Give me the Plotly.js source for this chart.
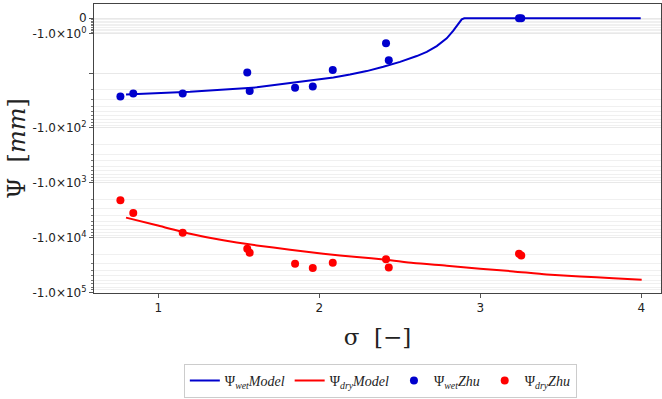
<!DOCTYPE html>
<html>
<head>
<meta charset="utf-8">
<script src="https://cdn.plot.ly/plotly-3.0.1.min.js"></script>
<style>html,body{margin:0;padding:0;background:#fff;}#chart{width:662px;height:399px;}</style>
</head>
<body>
<div id="chart"></div>
<script>
// ---- data ----
const sigmaZhu = [0.765, 0.845, 1.152, 1.553, 1.568, 1.850, 1.960, 2.084, 2.415, 2.432, 3.241, 3.255];
const psiWetZhu = [-26.6, -23.5, -23.5, -9.6, -21.3, -18.5, -17.5, -8.3, -1.76, -4.7, 0, 0];
const psiDryZhu = [-2090, -3560, -8120, -15900, -18800, -29900, -36000, -28700, -24900, -34900, -19600, -21100];

const sigmaWetModel = [0.800, 1.198, 1.612, 1.881, 1.984, 2.088, 2.191, 2.295, 2.398, 2.502, 2.606, 2.668, 2.730, 2.792, 2.833, 2.864, 2.885, 2.901, 3.997];
const psiWetModel = [-24.5, -22.0, -18.2, -14.6, -13.4, -12.0, -10.6, -8.9, -6.9, -5.2, -3.7, -2.9, -2.07, -1.32, -0.81, -0.33, -0.07, 0, 0];

const sigmaDryModel = [0.800, 0.991, 1.198, 1.404, 1.612, 1.819, 2.025, 2.233, 2.415, 2.585, 2.792, 2.999, 3.206, 3.413, 3.620, 3.827, 4.003];
const psiDryModel = [-4320, -5970, -8470, -11220, -13860, -16600, -19630, -22650, -25290, -29150, -32500, -36900, -41300, -46900, -51000, -54800, -58600];

const xTicks = [1, 2, 3, 4];
const yMajor = [0, -1, -10, -100, -1000, -10000, -100000];
const yMajorText = ['0', '-1.0×10<sup>0</sup>', '', '-1.0×10<sup>2</sup>', '-1.0×10<sup>3</sup>', '-1.0×10<sup>4</sup>', '-1.0×10<sup>5</sup>'];

// ---- symmetric-log style transform of the y axis ----
function T(y) {
  const a = Math.abs(y);
  let t;
  if (a <= 1) t = a * 0.28;
  else if (a <= 10) t = 0.28 + 0.72 * Math.log10(a);
  else t = Math.log10(a);
  return y < 0 ? -t : t;
}

const yMinorVals = [];
for (let k = 1; k <= 9; k++) yMinorVals.push(T(-k / 10));
for (let d = 1; d <= 4; d++) for (let k = 2; k <= 9; k++) yMinorVals.push(T(-k * Math.pow(10, d)));

const blue = 'rgb(0,0,205)';
const red = 'rgb(255,0,0)';
const lf = {family: 'Liberation Serif, DejaVu Serif, serif', size: 14, color: '#222'};

const traces = [
  {x: sigmaWetModel, y: psiWetModel.map(T), mode: 'lines', line: {color: blue, width: 2},
   name: 'Ψ<sub><i>wet</i></sub><i>Model</i>'},
  {x: sigmaDryModel, y: psiDryModel.map(T), mode: 'lines', line: {color: red, width: 2, shape: 'spline', smoothing: 0.6},
   name: 'Ψ<sub><i>dry</i></sub><i>Model</i>'},
  {x: sigmaZhu, y: psiWetZhu.map(T), mode: 'markers', marker: {color: blue, size: 8},
   name: 'Ψ<sub><i>wet</i></sub><i>Zhu</i>'},
  {x: sigmaZhu, y: psiDryZhu.map(T), mode: 'markers', marker: {color: red, size: 8},
   name: 'Ψ<sub><i>dry</i></sub><i>Zhu</i>'}
];

const layout = {
  width: 662, height: 399,
  margin: {l: 94, r: 1, t: 4, b: 106},
  paper_bgcolor: '#fff', plot_bgcolor: '#fff',
  showlegend: true,
  legend: {orientation: 'h', x: 0.505, xanchor: 'center', y: -0.245, yanchor: 'top',
           bordercolor: '#cccccc', borderwidth: 1, font: lf, itemwidth: 30, tracegroupgap: 0},
  xaxis: {
    range: [0.601, 4.123], tickmode: 'array', tickvals: xTicks, ticktext: xTicks.map(String),
    ticks: 'outside', ticklen: 4, tickcolor: '#555', showgrid: false, zeroline: false,
    showline: true, linecolor: '#444', linewidth: 1, mirror: true,
    tickfont: {family: 'DejaVu Sans, sans-serif', size: 12, color: '#222'},
    title: {text: 'σ  [−]', font: {family: 'DejaVu Serif, serif', size: 23, color: '#222'}, standoff: 14}
  },
  yaxis: {
    range: [-5.01, 0.26], tickmode: 'array', tickvals: yMajor.map(T), ticktext: yMajorText,
    ticks: 'outside', ticklen: 4, tickcolor: '#555', showgrid: true, gridcolor: '#e8e8e8',
    zeroline: false, showline: true, linecolor: '#444', linewidth: 1, mirror: true,
    tickfont: {family: 'DejaVu Sans, sans-serif', size: 12, color: '#222'},
    minor: {tickmode: 'array', tickvals: yMinorVals, ticks: 'outside', ticklen: 2, tickcolor: '#777',
            showgrid: true, gridcolor: '#f0f0f0'},
    title: {text: 'Ψ  [<i>mm</i>]', font: {family: 'DejaVu Serif, serif', size: 24, color: '#222'}, standoff: 0}
  }
};

Plotly.newPlot('chart', traces, layout, {staticPlot: true, displayModeBar: false});
</script>
</body>
</html>
